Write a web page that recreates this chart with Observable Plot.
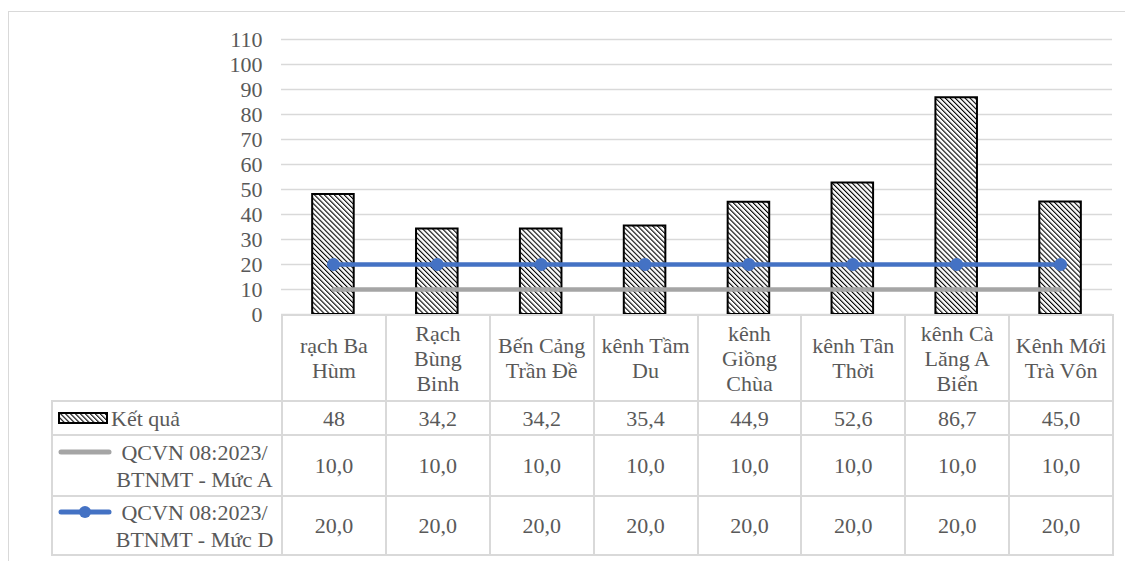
<!DOCTYPE html>
<html>
<head>
<meta charset="utf-8">
<script src="https://cdn.jsdelivr.net/npm/d3@7"></script>
<script src="https://cdn.jsdelivr.net/npm/@observablehq/plot@0.6"></script>
<style>
  html, body { margin: 0; padding: 0; background: #fff; }
  #wrap { position: relative; width: 1125px; height: 561px; overflow: hidden; font-family: "Liberation Serif", Tinos, "Times New Roman", Times, "DejaVu Serif", serif; color: #595959; }
  #frame { position: absolute; left: 8px; top: 11px; width: 1200px; height: 700px; border: 1.5px solid #d9d9d9; box-sizing: border-box; }
  #chart { position: absolute; left: 0; top: 0; }
  #tbl { position: absolute; left: 51px; top: 314px; border-collapse: collapse; table-layout: fixed; font-size: 22px; font-family: inherit; }
  #tbl td { border: 2px solid #d9d9d9; text-align: center; vertical-align: middle; padding: 0 5px; line-height: 25px; box-sizing: border-box; }
  #tbl td.blank { border-top: none; border-left: none; }
  #tbl td.leg { padding: 0 4px 0 5px; text-align: left; }
  .legrow { display: flex; align-items: flex-start; }
  .sw { width: 54px; height: 27px; flex: none; display: flex; align-items: center; }
  .lt { flex: 1; text-align: center; line-height: 27px; white-space: nowrap; }
  .lt1 { line-height: 27px; }
</style>
</head>
<body>
<svg width="0" height="0" style="position:absolute">
  <defs>
    <pattern id="hatch" patternUnits="userSpaceOnUse" width="3.5" height="3.5" patternTransform="rotate(-45)">
      <rect x="0" y="0" width="3.5" height="3.5" fill="#ffffff"></rect>
      <rect x="0" y="0" width="1.1" height="3.5" fill="#000000"></rect>
    </pattern>
  </defs>
</svg>
<div id="wrap">
  <div id="frame"></div>
  <div id="chart"></div>
  <table id="tbl"></table>
</div>
<script>
// ---- data ----
const categories = ["rạch Ba Hùm", "Rạch Bùng Binh", "Bến Cảng Trần Đề", "kênh Tầm Du", "kênh Giồng Chùa", "kênh Tân Thời", "kênh Cà Lăng A Biển", "Kênh Mới Trà Vôn"];
const ketQua = [48, 34.2, 34.2, 35.4, 44.9, 52.6, 86.7, 45.0];
const ketQuaLabels = ["48", "34,2", "34,2", "35,4", "44,9", "52,6", "86,7", "45,0"];
const mucA = [10, 10, 10, 10, 10, 10, 10, 10];
const mucD = [20, 20, 20, 20, 20, 20, 20, 20];
const yTicks = [0, 10, 20, 30, 40, 50, 60, 70, 80, 90, 100, 110];
const seriesNames = ["Kết quả", "QCVN 08:2023/ BTNMT - Mức A", "QCVN 08:2023/ BTNMT - Mức D"];

const rows = categories.map((c, i) => ({cat: c, kq: ketQua[i], a: mucA[i], d: mucD[i]}));
const fmt = v => v.toFixed(1).replace(".", ",");
const serif = "'Liberation Serif', Tinos, 'Times New Roman', Times, 'DejaVu Serif', serif";

const chart = Plot.plot({
  width: 1125,
  height: 316,
  marginLeft: 281,
  marginRight: 13,
  marginTop: 39,
  marginBottom: 2,
  style: {fontFamily: serif, fontSize: "22px", color: "#595959", background: "transparent", overflow: "visible"},
  x: {type: "band", domain: categories, paddingInner: 0.6, paddingOuter: 0.3, round: false, axis: null},
  y: {domain: [0, 110], ticks: yTicks},
  marks: [
    Plot.ruleY(yTicks, {stroke: "#d9d9d9", strokeWidth: 1.5}),
    Plot.axisY({ticks: yTicks, tickSize: 0, tickPadding: 19, label: null, fontSize: 22}),
    Plot.barY(rows, {x: "cat", y: "kq", fill: "url(#hatch)", stroke: "#000", strokeWidth: 2}),
    Plot.line(rows, {x: "cat", y: "a", stroke: "#a5a5a5", strokeWidth: 4.5}),
    Plot.line(rows, {x: "cat", y: "d", stroke: "#4472c4", strokeWidth: 4.5}),
    Plot.dot(rows, {x: "cat", y: "d", r: 6.5, fill: "#4472c4", stroke: "none"})
  ]
});
document.getElementById("chart").appendChild(chart);

// ---- data table ----
const tbl = document.getElementById("tbl");
const colW = 831 / categories.length;
let html = `<colgroup><col style="width:230px">${categories.map(() => `<col style="width:${colW}px">`).join("")}</colgroup>`;
html += `<tr style="height:86px"><td class="blank"></td>${categories.map(c => `<td>${c}</td>`).join("")}</tr>`;

const swHatch = `<svg width="50" height="12"><rect x="1" y="1" width="48" height="10" fill="url(#hatch)" stroke="#000" stroke-width="2"></rect></svg>`;
const swGray = `<svg width="54" height="12"><line x1="3" y1="6" x2="51" y2="6" stroke="#a5a5a5" stroke-width="5" stroke-linecap="round"></line></svg>`;
const swBlue = `<svg width="54" height="14"><line x1="3" y1="7" x2="51" y2="7" stroke="#4472c4" stroke-width="5" stroke-linecap="round"></line><circle cx="27" cy="7" r="6" fill="#4472c4"></circle></svg>`;

const legHtml = (sw, name, twoLine) => {
  if (!twoLine) return `<div class="legrow"><div class="sw" style="width:53px">${sw}</div><div class="lt1">${name}</div></div>`;
  const parts = name.split(" BTNMT");
  return `<div class="legrow"><div class="sw">${sw}</div><div class="lt">${parts[0]}<br>BTNMT${parts[1]}</div></div>`;
};

html += `<tr style="height:34px"><td class="leg">${legHtml(swHatch, seriesNames[0], false)}</td>${ketQuaLabels.map(v => `<td>${v}</td>`).join("")}</tr>`;
html += `<tr style="height:61px"><td class="leg">${legHtml(swGray, seriesNames[1], true)}</td>${mucA.map(v => `<td>${fmt(v)}</td>`).join("")}</tr>`;
html += `<tr style="height:59px"><td class="leg">${legHtml(swBlue, seriesNames[2], true)}</td>${mucD.map(v => `<td>${fmt(v)}</td>`).join("")}</tr>`;
tbl.innerHTML = html;
</script>
</body>
</html>
